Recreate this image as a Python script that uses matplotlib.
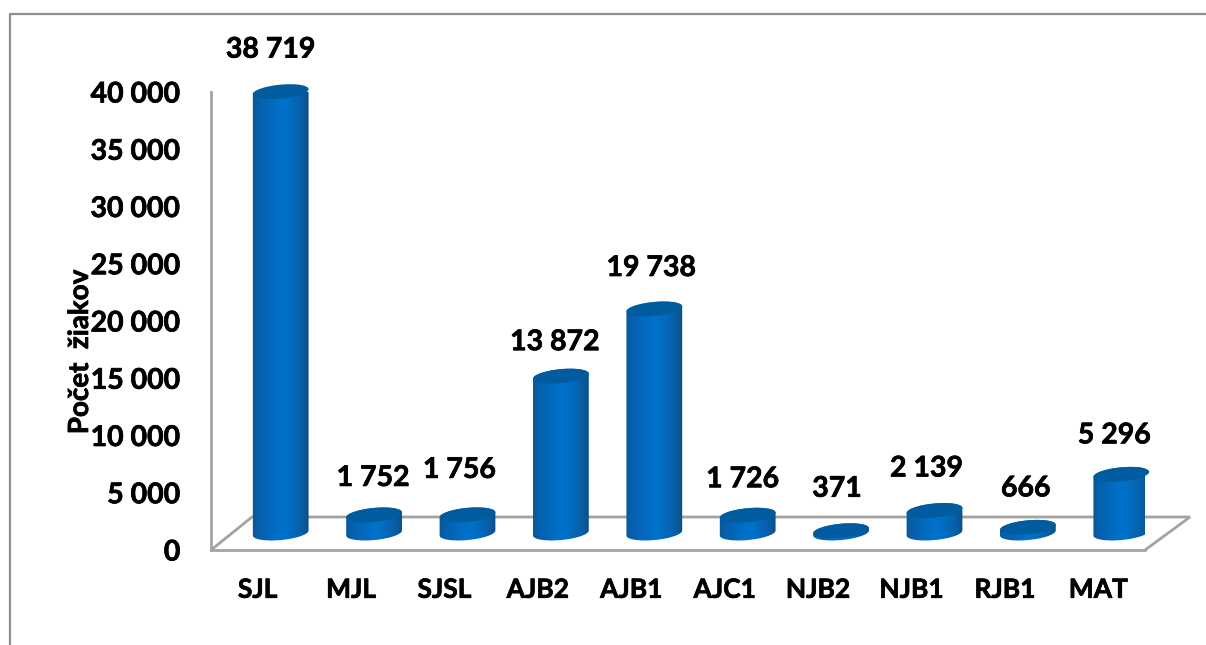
#!/usr/bin/env python3

import numpy as np
import matplotlib
matplotlib.use('Agg')
import matplotlib.pyplot as plt
import matplotlib.patheffects as pe
from matplotlib.colors import LinearSegmentedColormap
from matplotlib.lines import Line2D
from matplotlib.patches import Polygon
from matplotlib.transforms import IdentityTransform

plt.rcParams['font.family'] = ['Lato', 'DejaVu Sans']

subjects = ['SJL', 'MJL', 'SJSL', 'AJB2', 'AJB1', 'AJC1', 'NJB2', 'NJB1', 'RJB1', 'MAT']
pupils = [38719, 1752, 1756, 13872, 19738, 1726, 371, 2139, 666, 5296]
pupil_labels = ['38 719', '1 752', '1 756', '13 872', '19 738', '1 726', '371', '2 139', '666', '5 296']
y_ticks = [0, 5000, 10000, 15000, 20000, 25000, 30000, 35000, 40000]
y_tick_labels = ['0', '5 000', '10 000', '15 000', '20 000', '25 000', '30 000', '35 000', '40 000']

# where excel happened to put each value label, px from the top of the bar
label_nudge = [(-10, 42), (-1, 37), (-8, 45), (-6, 34), (-3, 41),
               (-5, 36), (-4, 42), (-8, 42), (-2, 39), (-7, 39)]

W, H = 1206, 645
GREY = '#a3a3a3'
TOP_COLOR = '#005c9f'
DEPTH_X, DEPTH_Y = 23, 17
RX, RY, TILT = 28, 7, np.radians(5.5)
HEAVY = [pe.withStroke(linewidth=0.5, foreground='black')]

fig = plt.figure(figsize=(W / 100, H / 100), dpi=100)
ax = fig.add_axes([211 / W, (H - 550) / H, 934 / W, 458 / H])
ax.set_xlim(-0.5, 9.5)
ax.set_ylim(0, 40000)
ax.patch.set_alpha(0)

ax.set_xticks(range(len(subjects)))
ax.set_xticklabels(subjects, fontsize=19, fontweight='bold', path_effects=HEAVY)
ax.set_yticks(y_ticks)
ax.set_yticklabels(y_tick_labels, fontsize=20.5, fontweight='bold', path_effects=HEAVY)
ax.tick_params(axis='x', length=0, pad=20)
ax.tick_params(axis='y', length=0, pad=22)
for s in ['top', 'right']:
    ax.spines[s].set_visible(False)
for s in ['left', 'bottom']:
    ax.spines[s].set_color(GREY)
    ax.spines[s].set_linewidth(2)

fig.text(80 / W, 1 - 352 / H, 'Počet  žiakov', rotation=90, fontsize=20,
         fontweight='bold', ha='center', va='center', path_effects=HEAVY)

# outer chart border, cut off by the screenshot on the right and bottom
fig.add_artist(Line2D([10 / W, 10 / W, 1], [0, 1 - 14 / H, 1 - 14 / H],
                      color='#8f8f8f', lw=1.6))

# floor of the 3d chart
x0, y0 = ax.transData.transform((-0.5, 0))
x1, y1 = ax.transData.transform((9.5, 0))
floor = [(x0, y0), (x0 + 41, y0 + 33), (x1 + 45, y0 + 33), (x1, y1)]
ax.add_patch(Polygon(floor, closed=False, fill=False, edgecolor=GREY, lw=2,
                     transform=IdentityTransform(), clip_on=False, zorder=1))

body_cmap = LinearSegmentedColormap.from_list('body', [
    (0.0, '#0a5796'), (0.12, '#0660ad'), (0.5, '#0072cc'), (0.62, '#006fc6'),
    (0.85, '#085ea8'), (1.0, '#0c4f84')])
gradient = np.linspace(0, 1, 256).reshape(1, -1)

# angle where the tilted ellipse reaches its widest point, so the sides stay tangent
T_SIDE = np.arctan2(-RY * np.sin(TILT), RX * np.cos(TILT))


def ellipse(cx, cy, t):
    ex = RX * np.cos(t)
    ey = RY * np.sin(t)
    return np.column_stack([cx + ex * np.cos(TILT) - ey * np.sin(TILT),
                            cy + ex * np.sin(TILT) + ey * np.cos(TILT)])


for i, v in enumerate(pupils):
    bx, by = ax.transData.transform((i, 0))
    tx, ty = ax.transData.transform((i, v))
    bx, by = bx + DEPTH_X, by + DEPTH_Y
    ty = ty + DEPTH_Y - 2

    outline = np.vstack([ellipse(bx, ty, np.linspace(np.pi + T_SIDE, T_SIDE, 60)),
                         ellipse(bx, by, np.linspace(T_SIDE, T_SIDE - np.pi, 60))])
    body = Polygon(outline, closed=True, facecolor='none', edgecolor='none',
                   transform=IdentityTransform(), clip_on=True)
    ax.add_patch(body)
    im = ax.imshow(gradient, cmap=body_cmap, aspect='auto', zorder=3,
                   extent=(bx - RX - 1, bx + RX + 1, by - 12, ty + 12),
                   transform=IdentityTransform())
    im.set_clip_path(body)

    top = Polygon(ellipse(bx, ty, np.linspace(0, 2 * np.pi, 80)), closed=True,
                  facecolor=TOP_COLOR, edgecolor='none',
                  transform=IdentityTransform(), clip_on=False, zorder=4)
    ax.add_patch(top)

    nx, ny = label_nudge[i]
    ax.annotate(pupil_labels[i], xy=(tx + DEPTH_X, ty), xycoords=IdentityTransform(),
                xytext=(nx, ny), textcoords='offset pixels', fontsize=20.5,
                fontweight='bold', ha='center', va='center', annotation_clip=False,
                zorder=5, path_effects=HEAVY)

ax.set_xlim(-0.5, 9.5)
ax.set_ylim(0, 40000)

fig.savefig('out.png', dpi=100)
